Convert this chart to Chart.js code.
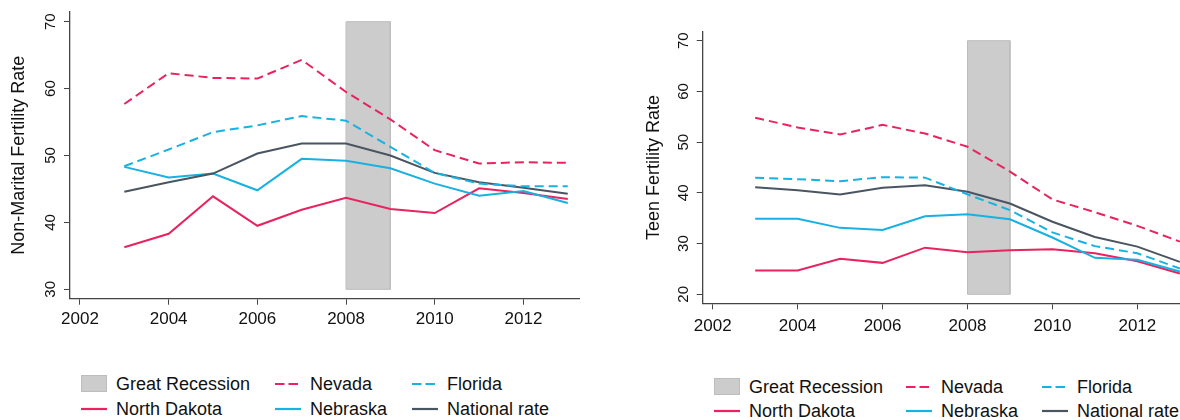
<!DOCTYPE html>
<html>
<head>
<meta charset="utf-8">
<script src="https://cdn.jsdelivr.net/npm/chart.js@4.4.1/dist/chart.umd.min.js"></script>
<style>
  html, body { margin: 0; padding: 0; background: #fff; overflow: hidden; width: 1180px; height: 420px; }
  #wrap { position: relative; width: 1180px; height: 420px; font-family: "Liberation Sans", Arial, sans-serif; color: #111; }
  canvas { position: absolute; top: 0; }
  #nmChart { left: 0; }
  #teenChart { left: 600px; }
  .item { position: absolute; height: 22px; line-height: 22px; font-size: 18px; white-space: nowrap; display: flex; align-items: center; }
  .item svg { margin-right: 9px; flex: none; }
</style>
</head>
<body>
<div id="wrap">
  <canvas id="nmChart" width="590" height="350"></canvas>
  <canvas id="teenChart" width="600" height="350"></canvas>
  <div id="legendLeft"></div>
  <div id="legendRight"></div>
</div>
<script>
// --- data ---
const years = [2003, 2004, 2005, 2006, 2007, 2008, 2009, 2010, 2011, 2012, 2013];
const xTicks = [2002, 2004, 2006, 2008, 2010, 2012];
const recessionYears = [2008, 2009];

// non-marital fertility rate
const nmNevada      = [57.7, 62.3, 61.6, 61.5, 64.3, 59.5, 55.4, 50.8, 48.8, 49.0, 48.9];
const nmFlorida     = [48.4, 50.9, 53.5, 54.5, 55.9, 55.2, 51.3, 47.4, 45.8, 45.4, 45.4];
const nmNational    = [44.6, 46.0, 47.3, 50.3, 51.8, 51.8, 50.0, 47.4, 46.0, 45.2, 44.3];
const nmNebraska    = [48.3, 46.7, 47.3, 44.8, 49.5, 49.2, 48.1, 45.8, 44.0, 44.7, 42.9];
const nmNorthDakota = [36.3, 38.3, 43.9, 39.5, 41.9, 43.7, 42.0, 41.4, 45.1, 44.4, 43.5];
const nmYTicks = [30, 40, 50, 60, 70];

// teen fertility rate
const teenNevada      = [54.8, 52.9, 51.5, 53.4, 51.7, 49.1, 44.2, 38.7, 36.2, 33.5, 30.4];
const teenFlorida     = [43.0, 42.7, 42.3, 43.1, 43.0, 39.7, 36.6, 32.2, 29.5, 28.1, 25.1];
const teenNational    = [41.1, 40.5, 39.7, 41.0, 41.5, 40.2, 37.9, 34.3, 31.3, 29.4, 26.4];
const teenNebraska    = [34.9, 34.9, 33.1, 32.7, 35.4, 35.8, 34.8, 31.2, 27.2, 26.8, 24.5];
const teenNorthDakota = [24.7, 24.7, 27.0, 26.2, 29.2, 28.3, 28.7, 28.9, 28.1, 26.5, 24.1];
const teenYTicks = [20, 30, 40, 50, 60, 70];

// --- styles ---
const PINK = '#E8235F';
const CYAN = '#17B1E2';
const DARK = '#4A5562';
const AXIS = '#444';
const FONT = '"Liberation Sans", Arial, sans-serif';
const DASH = [9, 5];

const seriesStyle = [
  { name: 'Nevada',        color: PINK, dash: DASH },
  { name: 'Florida',       color: CYAN, dash: DASH },
  { name: 'National rate', color: DARK, dash: [] },
  { name: 'Nebraska',      color: CYAN, dash: [] },
  { name: 'North Dakota',  color: PINK, dash: [] }
];

function points(vals) {
  return years.map((yr, i) => ({ x: yr, y: vals[i] }));
}

// y tick labels are rotated in the original, Chart.js won't rotate vertical ticks
const rotatedYTicks = {
  id: 'rotatedYTicks',
  afterDraw(chart, args, opts) {
    const s = chart.scales.y, ctx = chart.ctx;
    ctx.save();
    ctx.font = '15px ' + FONT;
    ctx.fillStyle = '#111';
    ctx.textAlign = 'center';
    ctx.textBaseline = 'middle';
    s.ticks.forEach(t => {
      ctx.save();
      ctx.translate(chart.chartArea.left - opts.offset, s.getPixelForValue(t.value));
      ctx.rotate(-Math.PI / 2);
      ctx.fillText(String(t.value), 0, 0);
      ctx.restore();
    });
    ctx.restore();
  }
};

function makeChart(id, cfg) {
  const lo = cfg.yTicks[0], hi = cfg.yTicks[cfg.yTicks.length - 1];
  const a = recessionYears[0], b = recessionYears[1];
  const datasets = [
    // shaded recession band: top edge filled down to the lowest tick
    {
      label: 'Great Recession',
      data: [{ x: a, y: hi }, { x: b, y: hi }],
      borderColor: '#CCCCCC',
      backgroundColor: '#CCCCCC',
      borderWidth: 0,
      fill: { value: lo },
      pointRadius: 0,
      order: 10
    },
    // faint outline of the band
    {
      label: 'Great Recession outline',
      data: [{ x: a, y: lo }, { x: a, y: hi }, { x: b, y: hi }, { x: b, y: lo }, { x: a, y: lo }],
      borderColor: '#BDBDBD',
      borderWidth: 1,
      fill: false,
      pointRadius: 0,
      order: 9
    }
  ];
  seriesStyle.forEach((st, i) => {
    datasets.push({
      label: st.name,
      data: points(cfg.values[i]),
      borderColor: st.color,
      borderWidth: 2,
      borderDash: st.dash,
      pointRadius: 0,
      tension: 0,
      fill: false,
      order: 1
    });
  });

  return new Chart(document.getElementById(id), {
    type: 'line',
    data: { datasets: datasets },
    plugins: [rotatedYTicks],
    options: {
      responsive: false,
      animation: false,
      layout: { padding: cfg.padding },
      plugins: {
        legend: { display: false },
        tooltip: { enabled: false },
        filler: { drawTime: 'beforeDatasetsDraw' },
        rotatedYTicks: { offset: 19 }
      },
      scales: {
        x: {
          type: 'linear',
          min: cfg.xMin,
          max: cfg.xMax,
          afterBuildTicks: s => { s.ticks = xTicks.map(v => ({ value: v })); },
          afterFit: s => { s.height = cfg.xHeight; },
          ticks: {
            color: '#111',
            font: { family: FONT, size: 17 },
            padding: cfg.xPad,
            maxRotation: 0,
            autoSkip: false,
            callback: v => String(v)
          },
          grid: { drawOnChartArea: false, drawTicks: true, tickLength: 6, color: AXIS },
          border: { display: true, color: AXIS, width: 1.3 }
        },
        y: {
          min: cfg.yMin,
          max: cfg.yMax,
          afterBuildTicks: s => { s.ticks = cfg.yTicks.map(v => ({ value: v })); },
          afterFit: s => { s.width = cfg.yWidth; },
          ticks: { color: 'rgba(0,0,0,0)', font: { family: FONT, size: 15 } },
          title: {
            display: true,
            text: cfg.title,
            color: '#111',
            font: { family: FONT, size: 18 },
            padding: { top: 8, bottom: 0 }
          },
          grid: { drawOnChartArea: false, drawTicks: true, tickLength: 6, color: AXIS },
          border: { display: true, color: AXIS, width: 1.3 }
        }
      }
    }
  });
}

makeChart('nmChart', {
  values: [nmNevada, nmFlorida, nmNational, nmNebraska, nmNorthDakota],
  yTicks: nmYTicks,
  title: 'Non-Marital Fertility Rate',
  xMin: 2001.775, xMax: 2013.26,
  yMin: 28.6, yMax: 71.45,
  padding: { left: 0, top: 12, right: 10.7, bottom: 0 },
  yWidth: 70, xHeight: 51.3, xPad: 4
});

makeChart('teenChart', {
  values: [teenNevada, teenFlorida, teenNational, teenNebraska, teenNorthDakota],
  yTicks: teenYTicks,
  title: 'Teen Fertility Rate',
  xMin: 2001.764, xMax: 2013.24,
  yMin: 18.23, yMax: 71.77,
  padding: { left: 35.5, top: 31.7, right: 10, bottom: 0 },
  yWidth: 67.2, xHeight: 46.7, xPad: 7
});

// --- legends (3 columns x 2 rows, as in the original) ---
const legendOrder = [
  { name: 'Great Recession', box: true },
  { name: 'Nevada',        color: PINK, dash: true },
  { name: 'Florida',       color: CYAN, dash: true },
  { name: 'North Dakota',  color: PINK },
  { name: 'Nebraska',      color: CYAN },
  { name: 'National rate', color: DARK }
];

function buildLegend(el, cols, rows) {
  legendOrder.forEach((it, i) => {
    const d = document.createElement('div');
    d.className = 'item';
    d.style.left = cols[i % 3] + 'px';
    d.style.top = (rows[Math.floor(i / 3)] - 11) + 'px';
    let sw;
    if (it.box) {
      sw = '<svg width="26" height="22"><rect x="0.5" y="2.5" width="25" height="16" fill="#CCCCCC" stroke="#BDBDBD" stroke-width="1"/></svg>';
    } else {
      sw = '<svg width="26" height="22"><line x1="0" y1="11" x2="' + (it.dash ? 23 : 26) + '" y2="11" stroke="' + it.color +
           '" stroke-width="2.2"' + (it.dash ? ' stroke-dasharray="9.5 4"' : '') + '/></svg>';
    }
    d.innerHTML = sw + '<span>' + it.name + '</span>';
    el.appendChild(d);
  });
}

buildLegend(document.getElementById('legendLeft'), [81, 275, 412], [384, 409]);
buildLegend(document.getElementById('legendRight'), [714, 906, 1042], [387, 411]);
</script>
</body>
</html>
